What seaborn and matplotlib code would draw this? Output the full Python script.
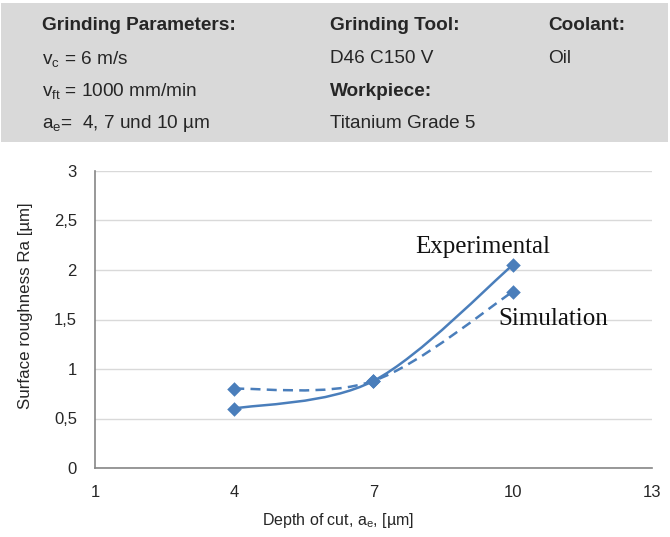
import numpy as np
import pandas as pd
import matplotlib
matplotlib.use("Agg")
import matplotlib.pyplot as plt
from matplotlib.path import Path
from matplotlib.patches import PathPatch, Rectangle
from matplotlib.ticker import FuncFormatter
import seaborn as sns

# Daten
depth = [4, 7, 10]
ra_experimental = [0.60, 0.88, 2.05]
ra_simulation = [0.80, 0.88, 1.78]

x_ticks = [1, 4, 7, 10, 13]
y_ticks = [0, 0.5, 1, 1.5, 2, 2.5, 3]

blue = "#4a7ebb"

sns.set_style("white")
plt.rcParams["font.family"] = ["Liberation Sans", "DejaVu Sans"]
plt.rcParams["mathtext.fontset"] = "custom"
plt.rcParams["mathtext.rm"] = "Liberation Sans"

fig = plt.figure(figsize=(6.7, 5.37), dpi=100)

# Kopfbereich (grauer Kasten)
fig.patches.append(Rectangle((0.002, 1 - 142 / 537), 0.995, (142 - 3) / 537,
                             transform=fig.transFigure, facecolor="#d9d9d9",
                             edgecolor="none", zorder=0))

rows = [1 - 26 / 537, 1 - 59 / 537, 1 - 91 / 537, 1 - 124 / 537]
c1, c2, c3 = 42 / 670, 330 / 670, 548 / 670
fs = 13.7
kw = dict(va="center", ha="left", fontsize=fs, color="#262626")
fig.text(c1, rows[0], "Grinding Parameters:", fontweight="bold", **kw)
fig.text(c1, rows[1], r"$\mathregular{v_c}$ = 6 m/s", **kw)
fig.text(c1, rows[2], r"$\mathregular{v_{ft}}$ = 1000 mm/min", **kw)
fig.text(c1, rows[3], r"$\mathregular{a_e}$=  4, 7 und 10 µm", **kw)
fig.text(c2, rows[0], "Grinding Tool:", fontweight="bold", **kw)
fig.text(c2, rows[1], "D46 C150 V", **kw)
fig.text(c2, rows[2], "Workpiece:", fontweight="bold", **kw)
fig.text(c2, rows[3], "Titanium Grade 5", **kw)
fig.text(c3, rows[0], "Coolant:", fontweight="bold", **kw)
fig.text(c3, rows[1], "Oil", **kw)

ax = fig.add_axes([95 / 670, 1 - 468 / 537, (652 - 95) / 670, (468 - 171) / 537])


def smooth_path(xs, ys):
    # Bezier-Glaettung wie in Excel (Catmull-Rom)
    pts = np.column_stack([xs, ys]).astype(float)
    ext = np.vstack([pts[0], pts, pts[-1]])
    verts = [pts[0]]
    codes = [Path.MOVETO]
    for i in range(len(pts) - 1):
        p0, p1, p2, p3 = ext[i], ext[i + 1], ext[i + 2], ext[i + 3]
        verts += [p1 + (p2 - p0) / 6, p2 - (p3 - p1) / 6, p2]
        codes += [Path.CURVE4] * 3
    return Path(verts, codes)


ax.add_patch(PathPatch(smooth_path(depth, ra_experimental), fill=False,
                       edgecolor=blue, lw=1.8, zorder=2))
ax.add_patch(PathPatch(smooth_path(depth, ra_simulation), fill=False,
                       edgecolor=blue, lw=1.8, linestyle=(0, (4, 2.5)), zorder=2))

df = pd.DataFrame({"depth": depth * 2,
                   "ra": ra_experimental + ra_simulation,
                   "serie": ["Experimental"] * 3 + ["Simulation"] * 3})
sns.scatterplot(data=df, x="depth", y="ra", marker="D", s=55, color=blue,
                edgecolor=blue, linewidth=0, ax=ax, zorder=3, legend=False)

ax.set_xlim(1, 13)
ax.set_ylim(0, 3)
ax.set_xticks(x_ticks)
ax.set_yticks(y_ticks)
ax.yaxis.set_major_formatter(FuncFormatter(lambda v, p: f"{v:g}".replace(".", ",")))
ax.grid(axis="y", color="#d9d9d9", lw=1)
ax.set_axisbelow(True)
for s in ["top", "right"]:
    ax.spines[s].set_visible(False)
for s in ["left", "bottom"]:
    ax.spines[s].set_color("#868686")
    ax.spines[s].set_linewidth(1.2)
ax.tick_params(axis="both", length=0, labelsize=12, colors="#262626")
ax.tick_params(axis="x", pad=12)
ax.tick_params(axis="y", pad=13)
ax.set_xlabel(r"Depth of cut, $\mathregular{a_e}$, [µm]", fontsize=11.5, color="#262626")
ax.set_ylabel("Surface roughness Ra [µm]", fontsize=12.2, color="#262626")
ax.xaxis.set_label_coords(0.436, -0.145)
ax.yaxis.set_label_coords(-0.111, 0.545)

ax.text(7.89, 2.23, "Experimental", family="Liberation Serif", fontsize=18,
        va="center", ha="left", color="#111111")
ax.text(9.68, 1.51, "Simulation", family="Liberation Serif", fontsize=18,
        va="center", ha="left", color="#111111")

fig.savefig("out.png", dpi=100)
